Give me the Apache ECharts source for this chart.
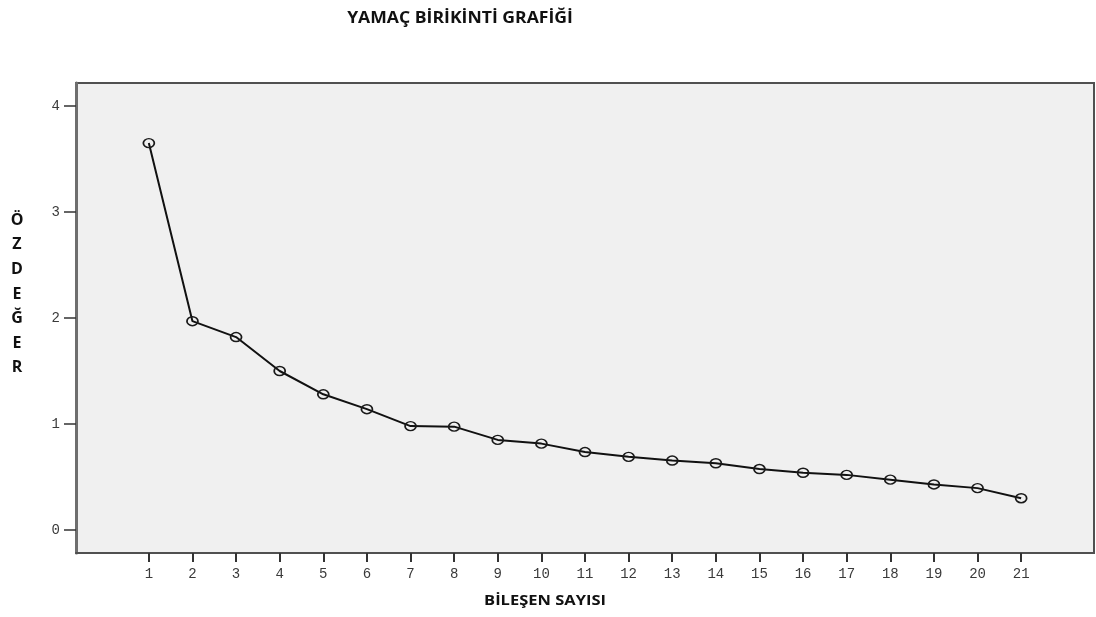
<!DOCTYPE html>
<html>
<head>
<meta charset="utf-8">
<script src="https://cdn.jsdelivr.net/npm/echarts@6/dist/echarts.min.js"></script>
<style>html,body{margin:0;padding:0;background:#fff;}#c{width:1096px;height:617px;}</style>
</head>
<body>
<div id="c"></div>
<script>
const components = [1,2,3,4,5,6,7,8,9,10,11,12,13,14,15,16,17,18,19,20,21];
const eigenvalues = [3.65,1.97,1.82,1.50,1.28,1.14,0.98,0.975,0.85,0.815,0.735,0.69,0.655,0.63,0.575,0.54,0.52,0.475,0.43,0.395,0.30];
const yTicks = [0,1,2,3,4];
const titleText = 'YAMAÇ BİRİKİNTİ GRAFİĞİ';
const xName = 'BİLEŞEN SAYISI';
const yNameLetters = ['Ö','Z','D','E','Ğ','E','R'];

const chart = echarts.init(document.getElementById('c'));
const tickFont = {fontFamily: 'Liberation Mono', fontSize: 14, color: '#3a3a3a'};
const headFont = {fontFamily: 'Open Sans', fontWeight: 'bold', fill: '#111'};
chart.setOption({
  animation: false,
  backgroundColor: '#ffffff',
  graphic: [
    {type: 'text', x: 460, y: 18, scaleX: 1.1,
     style: Object.assign({text: titleText, x: 0, y: 0, align: 'center', verticalAlign: 'middle', fontSize: 16}, headFont)},
    {type: 'text', x: 545, y: 601, scaleX: 1.1,
     style: Object.assign({text: xName, x: 0, y: 0, align: 'center', verticalAlign: 'middle', fontSize: 15}, headFont)},
    {type: 'text', x: 17, y: 208,
     style: Object.assign({text: yNameLetters.join('\n'), x: 0, y: 0, align: 'center', verticalAlign: 'top', lineHeight: 24.6, fontSize: 16}, headFont)}
  ],
  grid: {
    left: 76, right: 2, top: 83, bottom: 64,
    show: true, backgroundColor: '#f0f0f0', borderColor: '#505050', borderWidth: 2
  },
  xAxis: {
    type: 'value', min: -0.67, max: 22.67,
    splitLine: {show: false},
    axisLine: {show: true, onZero: false, lineStyle: {color: '#505050', width: 2}},
    axisTick: {show: true, length: 9, customValues: components, lineStyle: {color: '#333', width: 2}},
    axisLabel: {show: true, margin: 14, customValues: components, ...tickFont}
  },
  yAxis: {
    type: 'value', min: -0.217, max: 4.217,
    splitLine: {show: false},
    axisLine: {show: true, onZero: false, lineStyle: {color: '#6e6e6e', width: 3}},
    axisTick: {show: true, length: 12, customValues: yTicks, lineStyle: {color: '#333', width: 1.5}},
    axisLabel: {show: true, margin: 16, customValues: yTicks, ...tickFont}
  },
  series: [{
    type: 'line',
    data: components.map((c, i) => [c, eigenvalues[i]]),
    symbol: 'circle',
    symbolSize: [11, 9],
    lineStyle: {color: '#111', width: 2},
    itemStyle: {color: 'rgba(0,0,0,0)', borderColor: '#1a1a1a', borderWidth: 1.6},
    z: 3
  }]
});
</script>
</body>
</html>
